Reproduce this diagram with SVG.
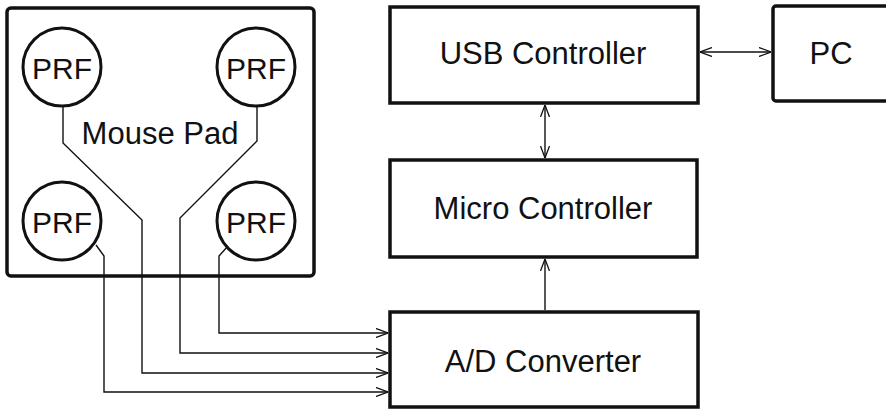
<svg xmlns="http://www.w3.org/2000/svg" width="886" height="410" viewBox="0 0 886 410">
<defs>
<marker id="ah" viewBox="0 0 12 10" refX="12" refY="5" markerWidth="12" markerHeight="10" markerUnits="userSpaceOnUse" orient="auto-start-reverse">
<path d="M0,0.5 L12,5 L0,9.5" fill="none" stroke="#111" stroke-width="1.3"/>
</marker>
<style>
.box{fill:#fff;stroke:#111;stroke-width:3.5}
.pad{fill:#fff;stroke:#111;stroke-width:3.5}
.prf{fill:#fff;stroke:#111;stroke-width:3}
.t{font-family:"Liberation Sans",Arial,sans-serif;fill:#111;text-anchor:middle}
.big{font-size:31px}
.p{font-size:30px}
.w{fill:none;stroke:#111;stroke-width:1.4}
</style>
</defs>
<rect width="886" height="410" fill="#fff"/>
<g id="mousepad">
<rect class="pad" x="7" y="8" width="307" height="268" rx="4"/>
<text class="t big" x="160" y="144">Mouse Pad</text>
</g>
<g id="prf1"><circle class="prf" cx="62" cy="67" r="39"/><text class="t p" x="62" y="79">PRF</text></g>
<g id="prf2"><circle class="prf" cx="256" cy="67" r="39"/><text class="t p" x="256" y="79">PRF</text></g>
<g id="prf3"><circle class="prf" cx="62" cy="221" r="39"/><text class="t p" x="62" y="233">PRF</text></g>
<g id="prf4"><circle class="prf" cx="256" cy="221" r="39"/><text class="t p" x="256" y="233">PRF</text></g>
<g id="usb"><rect class="box" x="390" y="7" width="308" height="96"/><text class="t big" x="543" y="64">USB Controller</text></g>
<g id="pc"><rect class="box" x="773" y="6" width="140" height="95" rx="3"/><text class="t big" x="831" y="64">PC</text></g>
<g id="micro"><rect class="box" x="390" y="160" width="307" height="97"/><text class="t big" x="543" y="219">Micro Controller</text></g>
<g id="adc"><rect class="box" x="390" y="312" width="308" height="95"/><text class="t big" x="543" y="372">A/D Converter</text></g>
<g id="connectors">
<path class="w" d="M63,106 V143 L142,220 V373 H388" marker-end="url(#ah)"/>
<path class="w" d="M257,106 V141 L180,218 V353 H388" marker-end="url(#ah)"/>
<path class="w" d="M96,245 L104,256 V392 H388" marker-end="url(#ah)"/>
<path class="w" d="M228,246 L219,256 V333 H388" marker-end="url(#ah)"/>
<path class="w" d="M700,52 H771" marker-start="url(#ah)" marker-end="url(#ah)"/>
<path class="w" d="M545,105 V158" marker-start="url(#ah)" marker-end="url(#ah)"/>
<path class="w" d="M545,310 V259" marker-end="url(#ah)"/>
</g>
</svg>
